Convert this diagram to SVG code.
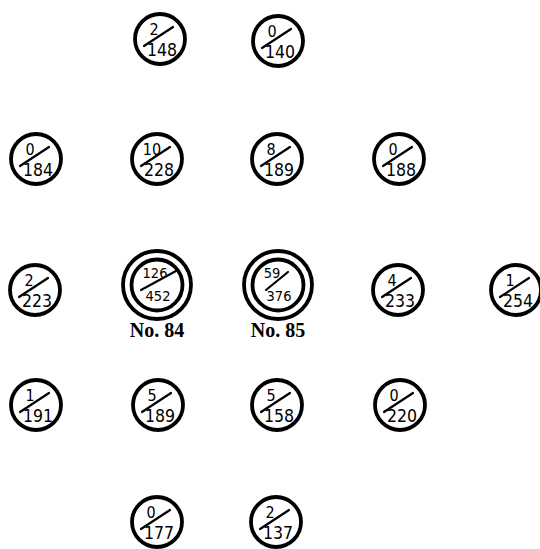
<svg xmlns="http://www.w3.org/2000/svg" width="540" height="549" viewBox="0 0 540 549">
<style>
.c{fill:none;stroke:#000;stroke-width:3.8}
.s{stroke:#000;stroke-width:2.2;stroke-linecap:round}
.n{font-family:"DejaVu Sans Condensed","Liberation Sans Narrow",sans-serif;font-size:16px;fill:#000;text-anchor:middle}
.d{font-family:"DejaVu Sans Condensed","Liberation Sans Narrow",sans-serif;font-size:17.5px;fill:#000;text-anchor:middle}
.m{font-family:"DejaVu Sans Condensed","Liberation Sans Narrow",sans-serif;font-size:14.5px;fill:#000;text-anchor:middle}
.lbl{font-family:"Liberation Serif",serif;font-weight:bold;font-size:20px;fill:#000;text-anchor:middle}
</style>
<defs>
<g id="sm"><circle class="c" r="25"/><line class="s" x1="-16" y1="7" x2="13" y2="-12"/></g>
</defs>
<g id="connectors"/>
<g id="n1" transform="translate(160,39)"><use href="#sm"/><text class="n" x="-6" y="-4">2</text><text class="d" x="2" y="17">148</text></g>
<g id="n2" transform="translate(278,41)"><use href="#sm"/><text class="n" x="-6" y="-4">0</text><text class="d" x="2" y="17">140</text></g>
<g id="n3" transform="translate(36,159)"><use href="#sm"/><text class="n" x="-6" y="-4">0</text><text class="d" x="2" y="17">184</text></g>
<g id="n4" transform="translate(157,159)"><use href="#sm"/><text class="n" x="-5" y="-4">10</text><text class="d" x="2" y="17">228</text></g>
<g id="n5" transform="translate(277,159)"><use href="#sm"/><text class="n" x="-6" y="-4">8</text><text class="d" x="2" y="17">189</text></g>
<g id="n6" transform="translate(399,159)"><use href="#sm"/><text class="n" x="-6" y="-4">0</text><text class="d" x="2" y="17">188</text></g>
<g id="n7" transform="translate(35,290)"><use href="#sm"/><text class="n" x="-6" y="-4">2</text><text class="d" x="2" y="17">223</text></g>
<g id="n8" transform="translate(157,285)"><circle class="c" r="34"/><circle class="c" r="25.5"/><line class="s" x1="-16" y1="5" x2="19" y2="-14"/><text class="m" x="-2" y="-7">126</text><text class="m" x="1" y="16">452</text></g>
<g id="n9" transform="translate(278,285)"><circle class="c" r="34"/><circle class="c" r="25.5"/><line class="s" x1="-12" y1="5" x2="10" y2="-13"/><text class="m" x="-6" y="-7">59</text><text class="m" x="1" y="16">376</text></g>
<g id="n10" transform="translate(398,290)"><use href="#sm"/><text class="n" x="-6" y="-4">4</text><text class="d" x="2" y="17">233</text></g>
<g id="n11" transform="translate(516,290)"><use href="#sm"/><text class="n" x="-6" y="-4">1</text><text class="d" x="2" y="17">254</text></g>
<text class="lbl" x="157" y="337">No. 84</text>
<text class="lbl" x="278" y="337">No. 85</text>
<g id="n12" transform="translate(36,405)"><use href="#sm"/><text class="n" x="-6" y="-4">1</text><text class="d" x="2" y="17">191</text></g>
<g id="n13" transform="translate(158,405)"><use href="#sm"/><text class="n" x="-6" y="-4">5</text><text class="d" x="2" y="17">189</text></g>
<g id="n14" transform="translate(277,405)"><use href="#sm"/><text class="n" x="-6" y="-4">5</text><text class="d" x="2" y="17">158</text></g>
<g id="n15" transform="translate(400,405)"><use href="#sm"/><text class="n" x="-6" y="-4">0</text><text class="d" x="2" y="17">220</text></g>
<g id="n16" transform="translate(157,522)"><use href="#sm"/><text class="n" x="-6" y="-4">0</text><text class="d" x="2" y="17">177</text></g>
<g id="n17" transform="translate(276,522)"><use href="#sm"/><text class="n" x="-6" y="-4">2</text><text class="d" x="2" y="17">137</text></g>
</svg>
